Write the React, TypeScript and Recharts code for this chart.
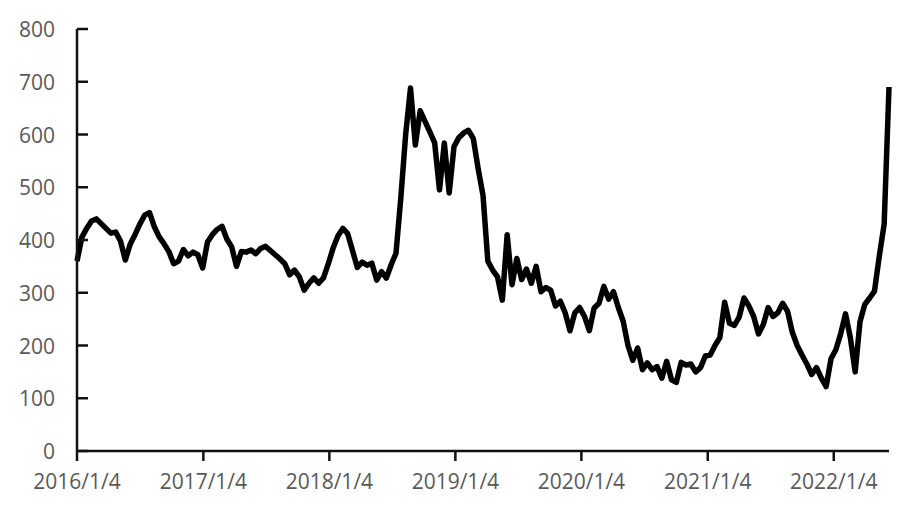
import React from 'react';
import { LineChart, Line, XAxis, YAxis } from 'recharts';

// one reading every two weeks, starting 2016/1/4
const START = Date.UTC(2016, 0, 4);
const DAY = 86400000;
const STEP_DAYS = 14;

const prices2016 = [360, 405, 422, 436, 440, 431, 422, 413, 415, 398, 362, 392, 410, 430, 447, 452, 425, 406, 393, 378, 355, 360, 382, 370, 377, 372];
const prices2017 = [347, 396, 410, 420, 426, 402, 387, 350, 378, 377, 381, 374, 384, 388, 380, 372, 364, 355, 334, 343, 330, 305, 318, 328, 318, 328];
const prices2018 = [355, 385, 408, 422, 412, 380, 348, 358, 352, 356, 324, 340, 328, 353, 375, 480, 600, 688, 580, 645, 625, 605, 584, 495, 584, 489];
const prices2019 = [577, 594, 603, 608, 592, 535, 485, 360, 343, 330, 286, 410, 315, 365, 325, 345, 318, 350, 302, 310, 305, 275, 284, 262, 228, 262];
const prices2020 = [272, 255, 228, 271, 280, 312, 288, 302, 272, 246, 200, 172, 195, 154, 167, 154, 160, 138, 170, 135, 130, 168, 163, 165, 150, 158];
const prices2021 = [180, 182, 200, 215, 282, 242, 238, 254, 290, 275, 255, 222, 240, 272, 255, 262, 280, 265, 225, 200, 182, 165, 145, 158, 138, 122];
const prices2022 = [175, 192, 222, 260, 215, 150, 245, 278, 290, 303, 370, 430, 690];

const tickDates = ['2016/1/4', '2017/1/4', '2018/1/4', '2019/1/4', '2020/1/4', '2021/1/4', '2022/1/4'];
const yTicks = [0, 100, 200, 300, 400, 500, 600, 700, 800];

const allPrices = [...prices2016, ...prices2017, ...prices2018, ...prices2019, ...prices2020, ...prices2021, ...prices2022];
const data = allPrices.map((v, i) => ({ day: i * STEP_DAYS, value: v }));

const dayOf = (s: string) => {
    const [y, m, d] = s.split('/').map(Number);
    return Math.round((Date.UTC(y, m - 1, d) - START) / DAY);
};
const xTicks = tickDates.map(dayOf);
const labelFor = (day: number) => tickDates[xTicks.indexOf(day)] ?? '';

const FONT = '"Open Sans", sans-serif';
const LABEL = '#595959';
const AXIS = '#111';

const XTick = (props: any) => {
    const { x, y, payload } = props;
    return (
        <g>
            <line x1={x} y1={y} x2={x} y2={y + 10} stroke={AXIS} strokeWidth={2.5} />
            <text x={x} y={y + 38} textAnchor="middle" fill={LABEL} fontSize={21} fontFamily={FONT}>
                {labelFor(payload.value)}
            </text>
        </g>
    );
};

const YTick = (props: any) => {
    const { x, y, payload } = props;
    return (
        <g>
            <line x1={x} y1={y} x2={x + 11} y2={y} stroke={AXIS} strokeWidth={2.5} />
            <text x={x - 22} y={y + 8} textAnchor="end" fill={LABEL} fontSize={21} fontFamily={FONT}>
                {payload.value}
            </text>
        </g>
    );
};

export default function App() {
    return (
        <div style={{ position: 'absolute', left: 0, top: 0, width: 900, height: 505, background: '#fff' }}>
            <LineChart width={900} height={505} data={data} margin={{ top: 29, right: 11, bottom: 0, left: 0 }}>
                <XAxis
                    dataKey="day"
                    type="number"
                    domain={[0, 'dataMax']}
                    ticks={xTicks}
                    interval={0}
                    height={54}
                    tickSize={0}
                    tickMargin={0}
                    tickLine={false}
                    axisLine={{ stroke: AXIS, strokeWidth: 2.5 }}
                    tick={<XTick />}
                />
                <YAxis
                    domain={[0, 800]}
                    ticks={yTicks}
                    interval={0}
                    width={77}
                    tickSize={0}
                    tickMargin={0}
                    tickLine={false}
                    axisLine={{ stroke: AXIS, strokeWidth: 2.5 }}
                    tick={<YTick />}
                />
                <Line
                    type="linear"
                    dataKey="value"
                    stroke="#000"
                    strokeWidth={5.5}
                    strokeLinejoin="round"
                    dot={false}
                    isAnimationActive={false}
                />
            </LineChart>
        </div>
    );
}
